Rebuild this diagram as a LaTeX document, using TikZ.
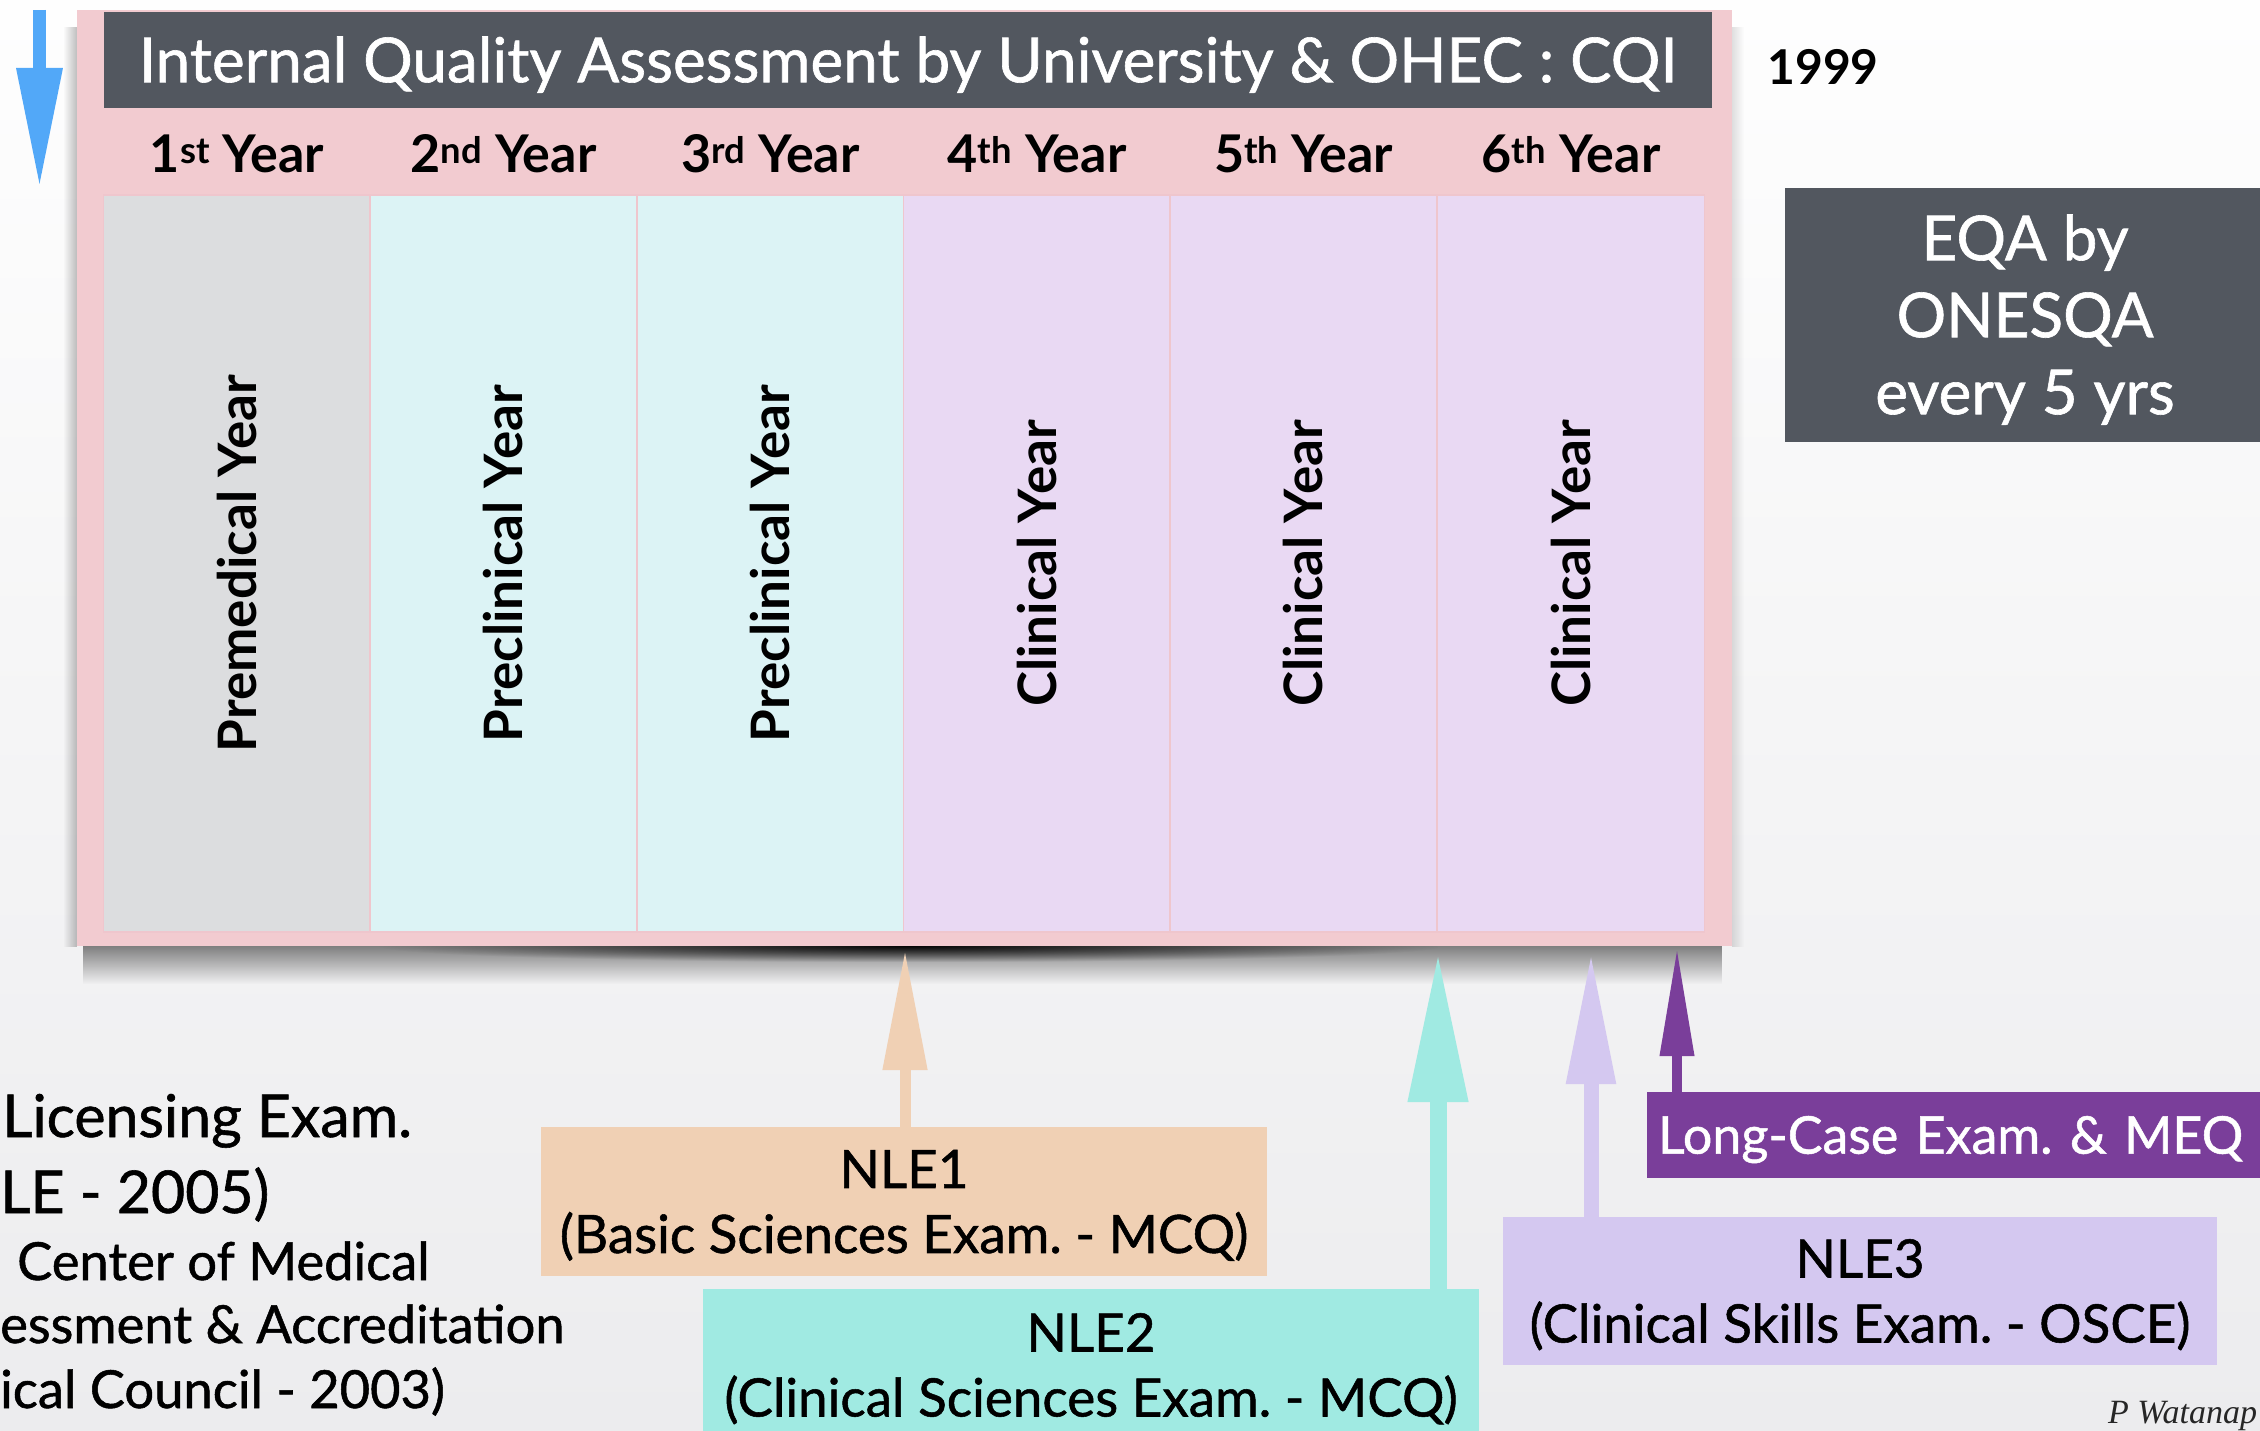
\documentclass[tikz,border=0pt]{standalone}
\usepackage{fontspec}
\setmainfont{Lato}
\newfontfamily\rg[FakeBold=1]{Lato}
\newfontfamily\sigfont{Liberation Serif}
\usetikzlibrary{arrows.meta,calc,fadings}
\definecolor{bgtop}{HTML}{FEFEFE}
\definecolor{bgbot}{HTML}{ECECEE}
\definecolor{framepink}{HTML}{F2CBD0}
\definecolor{darkbar}{HTML}{52575F}
\definecolor{premed}{HTML}{DCDDDF}
\definecolor{preclin}{HTML}{DCF3F5}
\definecolor{clin}{HTML}{E9D9F3}
\definecolor{peach}{HTML}{F0D0B4}
\definecolor{aqua}{HTML}{A0EAE2}
\definecolor{lilac}{HTML}{D4C8F0}
\definecolor{plum}{HTML}{7A3E9A}
\definecolor{skyblue}{HTML}{52A8F8}
\definecolor{sepline}{HTML}{EFC6CD}
\newcommand{\fsz}[1]{\fontsize{#1}{#1}\selectfont}
\newcommand{\tops}{\rule{0pt}{1em}}
\newcommand{\bots}{\rule[-0.2835em]{0pt}{0pt}}
\tikzfading[name=radfade, inner color=transparent!0, outer color=transparent!100]
\tikzfading[name=downfade, top color=transparent!0, bottom color=transparent!100]
\tikzfading[name=leftfade, left color=transparent!100, right color=transparent!0]
\tikzfading[name=rightfade, left color=transparent!0, right color=transparent!100]
\frenchspacing
\begin{document}
\begin{tikzpicture}[x=1pt,y=-1pt,
  box/.style={rectangle, inner sep=0pt, outer sep=0pt, anchor=north west},
  colbox/.style={rectangle, rotate=90, minimum width=737pt, minimum height=266.7pt,
     inner sep=0pt, draw=sepline, line width=1.5pt, font=\bfseries\fsz{53}},
  yearhdr/.style={anchor=base, inner sep=0pt, font=\bfseries\fsz{52}},
  boxtext/.style={align=center, font=\rg\fontsize{53}{65}\selectfont},
  lefttxt/.style={anchor=base west, inner sep=0pt},
  blk/.style n args={3}{line width=#1, -{Triangle[length=#2, width=#3]}}
]
\useasboundingbox (0,0) rectangle (2260,1431);
\clip (0,0) rectangle (2260,1431);
% background
\shade[top color=bgtop, bottom color=bgbot] (0,0) rectangle (2260,1431);
% shadow of the frame
\fill[black, opacity=0.6, path fading=downfade] (84,936) rectangle (1726,984);
\fill[black, opacity=0.95, path fading=radfade] (380,930) rectangle (1440,962);
\fill[black, opacity=0.25, path fading=leftfade] (63,25) rectangle (77,946);
\fill[black, opacity=0.12, path fading=rightfade] (1732,25) rectangle (1744,946);
% frame
\node[box, fill=framepink, minimum width=1655pt, minimum height=936pt] (frame) at (77,10) {};
\node[box, fill=darkbar, minimum width=1608pt, minimum height=96pt, text=white,
      font=\rg\fsz{62}, text height=44.4pt, text depth=0pt] (title) at (104,12)
      {Internal Quality Assessment by University \& OHEC : CQI};
% year headers
\node[yearhdr] (y1) at (237,173) {1\textsuperscript{st} Year};
\node[yearhdr] (y2) at (503.5,173) {2\textsuperscript{nd} Year};
\node[yearhdr] (y3) at (770.5,173) {3\textsuperscript{rd} Year};
\node[yearhdr] (y4) at (1037,173) {4\textsuperscript{th} Year};
\node[yearhdr] (y5) at (1303.5,173) {5\textsuperscript{th} Year};
\node[yearhdr] (y6) at (1571,173) {6\textsuperscript{th} Year};
% columns
\node[colbox, fill=premed] (c1) at (237,563.5) {Premedical Year};
\node[colbox, fill=preclin] (c2) at (503.5,563.5) {Preclinical Year};
\node[colbox, fill=preclin] (c3) at (770.5,563.5) {Preclinical Year};
\node[colbox, fill=clin] (c4) at (1037,563.5) {Clinical Year};
\node[colbox, fill=clin] (c5) at (1303.5,563.5) {Clinical Year};
\node[colbox, fill=clin] (c6) at (1571,563.5) {Clinical Year};
% right side
\node[anchor=base, inner sep=0pt, font=\bfseries\fsz{48}] (yr) at (1823,85) {1999};
\node[box, fill=darkbar, minimum width=480pt, minimum height=254pt, text=white,
      align=center, font=\rg\fontsize{62}{77}\selectfont] (eqa) at (1785,188)
      {\tops EQA by\\ONESQA\\every 5 yrs\bots};
% boxes
\node[box, fill=peach, minimum width=726pt, minimum height=149pt, boxtext] (nle1) at (541,1127)
      {\tops NLE1\\(Basic Sciences Exam. - MCQ)\bots};
\node[box, fill=aqua, minimum width=776pt, minimum height=152pt, boxtext] (nle2) at (703,1289)
      {\tops NLE2\\(Clinical Sciences Exam. - MCQ)\bots};
\node[box, fill=lilac, minimum width=714pt, minimum height=148pt, boxtext] (nle3) at (1503,1217)
      {\tops NLE3\\(Clinical Skills Exam. - OSCE)\bots};
\node[box, fill=plum, minimum height=86pt, text width=605pt, inner xsep=11pt, align=left,
      text=white, font=\rg\fsz{52}, text height=37.3pt, text depth=0pt] (lce) at (1647,1092)
      {Long-Case Exam. \& MEQ};
% arrow tips
\coordinate (t1) at (905,950);
\coordinate (t2) at (1438,952);
\coordinate (t3) at (1591,952);
\coordinate (t4) at (1677,947);
\coordinate (b0) at (39.5,10);
\coordinate (b1) at (39.5,188);
\draw[blk={11pt}{120pt}{42pt}, peach] (nle1.north -| t1) -- (t1);
\draw[blk={17pt}{150pt}{56pt}, aqua] (nle2.north -| t2) -- (t2);
\draw[blk={15pt}{132pt}{46pt}, lilac] (nle3.north -| t3) -- (t3);
\draw[blk={10pt}{109pt}{32pt}, plum] (lce.north -| t4) -- (t4);
\draw[blk={13pt}{120pt}{43pt}, skyblue] (b0) -- (b1);
% left text
\node[lefttxt, font=\rg\fsz{59}] (l1) at (2,1137) {Licensing Exam.};
\node[lefttxt, font=\rg\fsz{59}] (l2) at (0,1213) {LE - 2005)};
\node[lefttxt, font=\rg\fsz{52.5}] (l3) at (17,1280) {Center of Medical};
\node[lefttxt, font=\rg\fsz{52.5}] (l4) at (0,1343) {essment \& Accreditation};
\node[lefttxt, font=\rg\fsz{52.5}] (l5) at (0,1408) {ical Council - 2003)};
\node[lefttxt, font=\sigfont\itshape\fsz{34}, text=black!85] (sig) at (2108,1423) {P Watanap};
\end{tikzpicture}
\end{document}
